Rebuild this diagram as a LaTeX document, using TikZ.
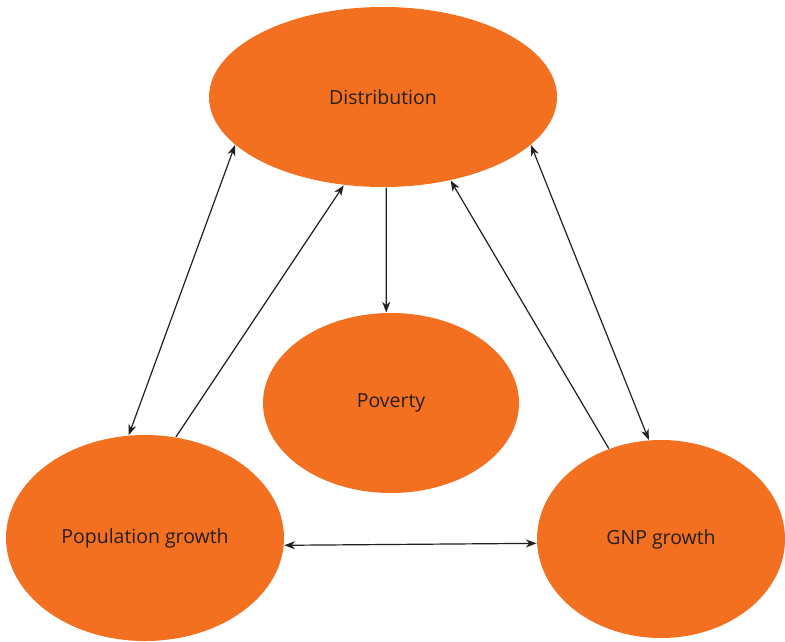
\documentclass[tikz,border=0pt]{standalone}
\usepackage{fontspec}
\setmainfont{Open Sans}
\usetikzlibrary{shapes.geometric,arrows.meta}
\definecolor{factorfill}{HTML}{F37021}
\definecolor{ink}{HTML}{231F20}
\tikzset{
every picture/.style={
line width=0.9pt
}}

\begin{document}
\begin{tikzpicture}[x=0.75pt, y=-0.75pt,
factor/.style = {ellipse, fill=factorfill, inner sep=0pt, text=ink, font=\fontsize{14.6}{17}\selectfont},
link/.style = {ink, -{Stealth[length=8pt, width=6pt, inset=2.5pt]}},
both/.style = {ink, {Stealth[length=8pt, width=6pt, inset=2.5pt]}-{Stealth[length=8pt, width=6pt, inset=2.5pt]}}]

\useasboundingbox (0,0) rectangle (785,642);

% factors: 383/97, 391/403, 145/538, 661/539
\node [factor, minimum width=261pt, minimum height=135pt] (dist) at (383,97) {Distribution};
\node [factor, minimum width=192pt, minimum height=135pt] (pov) at (391,403) {Poverty};
\node [factor, minimum width=208.5pt, minimum height=154.5pt] (pop) at (145,538) {Population growth};
\node [factor, minimum width=186pt, minimum height=148.5pt] (gnp) at (661,539) {GNP growth};

\draw [link] (dist.272) -- (pov.93);
\draw [both] (dist.198) -- (pop.99.5);
\draw [link] (pop.73.6) -- (dist.246);
\draw [link] (gnp.120.8) -- (dist.309);
\draw [both] (dist.342.3) -- (gnp.97);
\draw [both] (pop.357) -- (gnp.182.7);

\end{tikzpicture}
\end{document}
